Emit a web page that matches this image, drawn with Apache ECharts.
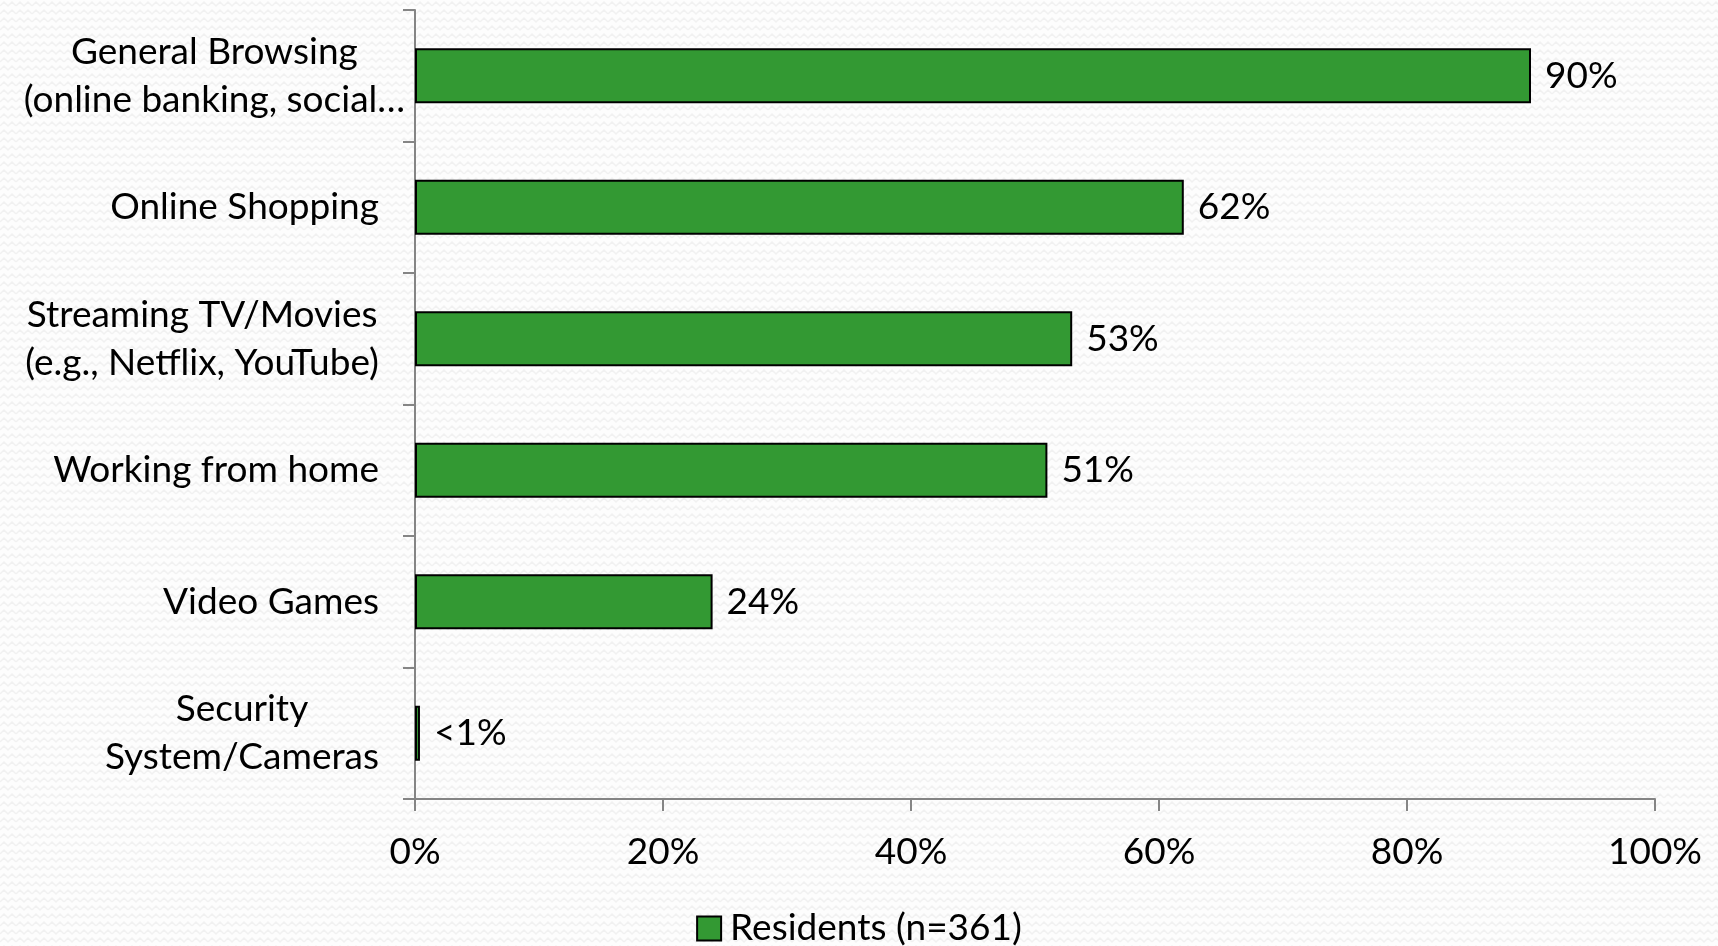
<!DOCTYPE html>
<html>
<head>
<meta charset="utf-8">
<title>Internet uses</title>
<script src="https://cdn.jsdelivr.net/npm/echarts@6/dist/echarts.min.js"></script>
<style>
  html, body { margin: 0; padding: 0; }
  body {
    background-color: #fdfdfd;
    background-image: url("data:image/svg+xml;utf8,<svg xmlns='http://www.w3.org/2000/svg' width='16' height='8'><path d='M0 6 L4 2 L8 6 L12 2 L16 6' fill='none' stroke='%23f1f1f1' stroke-width='1.5'/></svg>");
  }
  #chart { width: 1718px; height: 946px; }
</style>
</head>
<body>
<div id="chart"></div>
<script>
// Activities, top to bottom
const categories = [
  'General Browsing\n(online banking, social…',
  'Online Shopping',
  'Streaming TV/Movies\n(e.g., Netflix, YouTube)',
  'Working from home',
  'Video Games',
  'Security\nSystem/Cameras'
];
// Share of residents (%)
const residents = [90, 62, 53, 51, 24, 0.4];
const valueLabels = ['90%', '62%', '53%', '51%', '24%', '<1%'];
const xTicks = [0, 20, 40, 60, 80, 100];
const seriesName = 'Residents (n=361)';

const FONT = 'Lato';
const FONT_SIZE = 37;
const AXIS_GREY = '#858585';

// The truncated first label sits a little further right than the others
const categoryItems = categories.map((name, i) =>
  i === 0 ? { value: name, textStyle: { padding: [0, -26, 0, 0] } } : name
);

const chart = echarts.init(document.getElementById('chart'), null, { renderer: 'canvas' });

chart.setOption({
  backgroundColor: 'transparent',
  animation: false,
  textStyle: { fontFamily: FONT, color: '#000' },
  grid: { left: 415, right: 63, top: 10, bottom: 147, containLabel: false, outerBoundsMode: 'none' },
  legend: {
    bottom: -6,
    left: 'center',
    itemWidth: 24,
    itemHeight: 24,
    itemGap: 10,
    textStyle: { fontFamily: FONT, fontSize: FONT_SIZE, color: '#000', padding: [0, 0, 0, 4] },
    data: [{ name: seriesName, icon: 'rect' }]
  },
  xAxis: {
    type: 'value',
    min: xTicks[0],
    max: xTicks[xTicks.length - 1],
    interval: xTicks[1] - xTicks[0],
    splitLine: { show: false },
    axisLine: { show: true, lineStyle: { color: AXIS_GREY, width: 2 } },
    axisTick: { show: true, length: 12, lineStyle: { color: AXIS_GREY, width: 2 } },
    axisLabel: {
      margin: 35,
      fontFamily: FONT,
      fontSize: FONT_SIZE,
      color: '#000',
      formatter: v => v + '%'
    }
  },
  yAxis: {
    type: 'category',
    inverse: true,
    data: categoryItems,
    axisLine: { show: true, lineStyle: { color: AXIS_GREY, width: 2 } },
    axisTick: { show: true, length: 12, alignWithLabel: false, lineStyle: { color: AXIS_GREY, width: 2 } },
    axisLabel: {
      margin: 36,
      fontFamily: FONT,
      fontSize: FONT_SIZE,
      color: '#000',
      lineHeight: 48,
      align: 'right',
      formatter: v => v.split('\n').map(l => '{c|' + l + '}').join('\n'),
      rich: {
        c: { align: 'center', fontFamily: FONT, fontSize: FONT_SIZE, lineHeight: 48, color: '#000' }
      }
    }
  },
  series: [{
    name: seriesName,
    type: 'bar',
    data: residents,
    barCategoryGap: '58%',
    itemStyle: { color: '#339933', borderColor: '#000', borderWidth: 2 },
    label: {
      show: true,
      position: 'right',
      distance: 14,
      fontFamily: FONT,
      fontSize: FONT_SIZE,
      color: '#000',
      formatter: p => valueLabels[p.dataIndex]
    }
  }]
});
</script>
</body>
</html>
